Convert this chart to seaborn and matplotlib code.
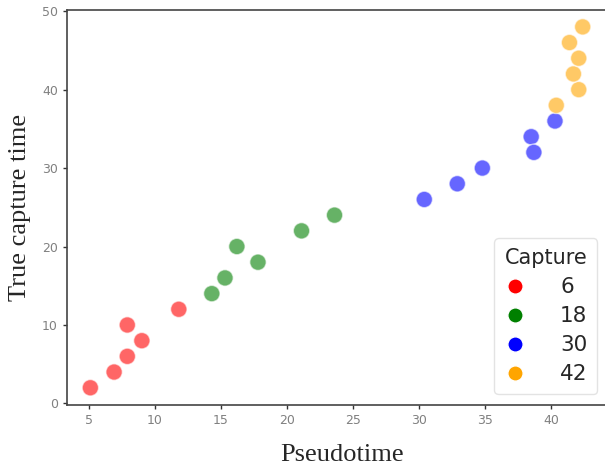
import pandas as pd
import seaborn as sns
import matplotlib.pyplot as plt
from matplotlib.lines import Line2D

# values
pseudotime = [5.1, 6.9, 7.9, 7.9, 9.0, 11.8,
              14.3, 15.3, 16.2, 17.8, 21.1, 23.6,
              30.4, 32.9, 34.8, 38.5, 38.7, 40.3,
              40.4, 42.1, 41.7, 42.1, 41.4, 42.4]
true_time = [2, 4, 6, 10, 8, 12,
             14, 16, 20, 18, 22, 24,
             26, 28, 30, 34, 32, 36,
             38, 40, 42, 44, 46, 48]
capture = [6] * 6 + [18] * 6 + [30] * 6 + [42] * 6
capture_levels = [6, 18, 30, 42]
capture_colors = ["red", "green", "blue", "orange"]

df = pd.DataFrame({"Pseudotime": pseudotime, "True capture time": true_time, "Capture": capture})
palette = dict(zip(capture_levels, capture_colors))

sns.set_style("white")
fig = plt.figure(figsize=(6.05, 4.66), dpi=100)
ax = fig.add_axes([67 / 605, 1 - 405 / 466, 550 / 605, 395 / 466])

sns.scatterplot(data=df, x="Pseudotime", y="True capture time", hue="Capture",
                palette=palette, alpha=0.6, s=140, edgecolor="white", linewidth=1,
                legend=False, ax=ax)

ax.set_xlim(3.33, 45)
ax.set_ylim(-0.2, 50.15)
ax.set_xticks([5, 10, 15, 20, 25, 30, 35, 40])
ax.set_yticks([0, 10, 20, 30, 40, 50])
ax.tick_params(axis="both", labelsize=9, colors="#333333", labelcolor="#808080",
               length=3, width=1, direction="out", bottom=True, left=True)
for side in ["left", "bottom", "top"]:
    ax.spines[side].set_color("#444444")
    ax.spines[side].set_linewidth(1.2)
ax.spines["right"].set_visible(False)

ax.set_xlabel("Pseudotime", family="Liberation Serif", fontsize=19, labelpad=12)
ax.set_ylabel("True capture time", family="Liberation Serif", fontsize=19, labelpad=8)

handles = [Line2D([], [], marker="o", linestyle="", color=c, markersize=11,
                  markeredgecolor="white") for c in capture_colors]
leg = ax.legend(handles, [str(c) for c in capture_levels], title="Capture",
                loc="lower right", bbox_to_anchor=(0.964, 0.028), borderaxespad=0,
                fontsize=15.5, title_fontsize=15, frameon=True, handlelength=1.0,
                handletextpad=1.6, labelspacing=0.42, borderpad=0.45)
leg.get_frame().set_edgecolor("#dddddd")
for t in leg.get_texts():
    t.set_ha("right")

fig.savefig("out.png", dpi=100)
